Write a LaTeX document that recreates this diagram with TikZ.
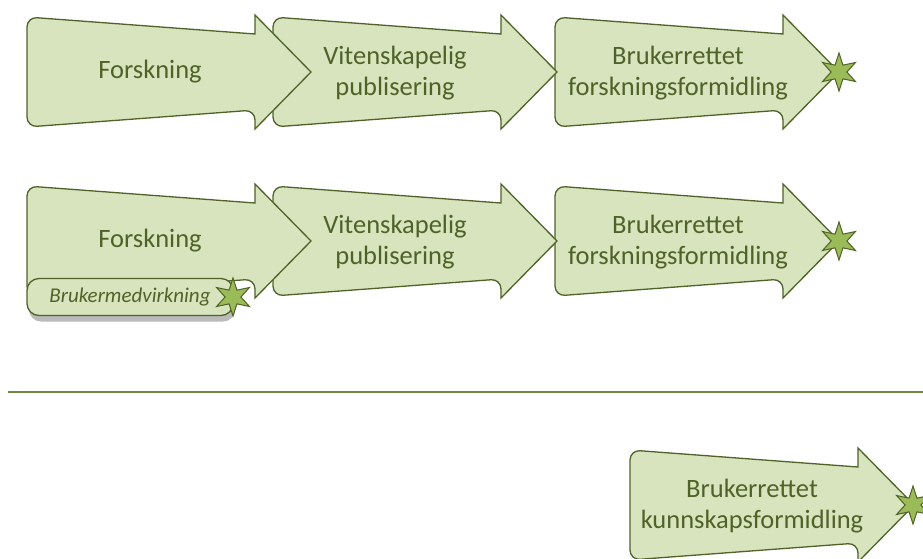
\documentclass[tikz,border=0pt]{standalone}
\usepackage{fontspec}
\setmainfont{Carlito}
\usetikzlibrary{shapes.geometric,shadows}

\definecolor{pilfyll}{HTML}{D7E4BD}
\definecolor{pilkant}{HTML}{4F6228}
\definecolor{stjernefyll}{HTML}{9BBB59}
\definecolor{skillelinje}{HTML}{6F8A3E}

\tikzset{
  pil/.style={draw=pilkant, fill=pilfyll, line width=1.3pt, line join=miter},
  piltekst/.style={text=pilkant, align=center, font=\fontsize{26.5}{31}\selectfont},
  stjerne/.style={star, star points=6, star point ratio=2.4, minimum size=38pt,
    inner sep=0pt, draw=pilkant, fill=stjernefyll, line width=1pt},
  medvirk/.style={draw=pilkant, fill=pilfyll, line width=1.3pt, rounded corners=12pt,
    minimum width=206pt, minimum height=37pt, inner sep=0pt,
    text=pilkant, font=\fontsize{21}{24}\selectfont\itshape,
    drop shadow={shadow xshift=2pt, shadow yshift=-6pt, opacity=0.45, fill=black!60}}
}

% #1 = venstre kant, #2 = midtlinje
\newcommand{\stegpil}[2]{%
  \draw[pil] (#1,#2) [rounded corners=10pt] -- (#1,#2+55) -- (#1+228,#2+38)
    [sharp corners] -- (#1+228,#2+57) -- (#1+284,#2) -- (#1+228,#2-57)
    -- (#1+228,#2-38) [rounded corners=10pt] -- (#1,#2-55) -- cycle;
}

\begin{document}
\begin{tikzpicture}[x=1pt, y=-1pt]
  \clip (0,0) rectangle (923,558);

  % Rad 1
  \stegpil{555}{72}
  \stegpil{273}{72}
  \stegpil{27}{72}
  \node[piltekst] (forsk1) at (150,72) {Forskning};
  \node[piltekst] (publ1) at (395,73) {Vitenskapelig\\publisering};
  \node[piltekst] (formid1) at (678,73) {Brukerrettet\\forskningsformidling};
  \node[stjerne] (stj1) at (839,72) {};

  % Rad 2
  \stegpil{555}{241}
  \stegpil{273}{241}
  \stegpil{27}{241}
  \node[piltekst] (forsk2) at (150,241) {Forskning};
  \node[piltekst] (publ2) at (395,242) {Vitenskapelig\\publisering};
  \node[piltekst] (formid2) at (678,242) {Brukerrettet\\forskningsformidling};
  \node[stjerne] (stj2) at (839,241) {};
  \node[medvirk] (medv) at (130,297) {Brukermedvirkning};
  \node[stjerne] (stjmedv) at (233,297) {};

  % Skillelinje
  \draw[skillelinje, line width=2.5pt] (8,392) -- (923,392);

  % Nederst
  \stegpil{630}{505}
  \node[piltekst] (kunnsk) at (752,506) {Brukerrettet\\kunnskapsformidling};
  \node[stjerne] (stj3) at (913,505) {};
\end{tikzpicture}
\end{document}
